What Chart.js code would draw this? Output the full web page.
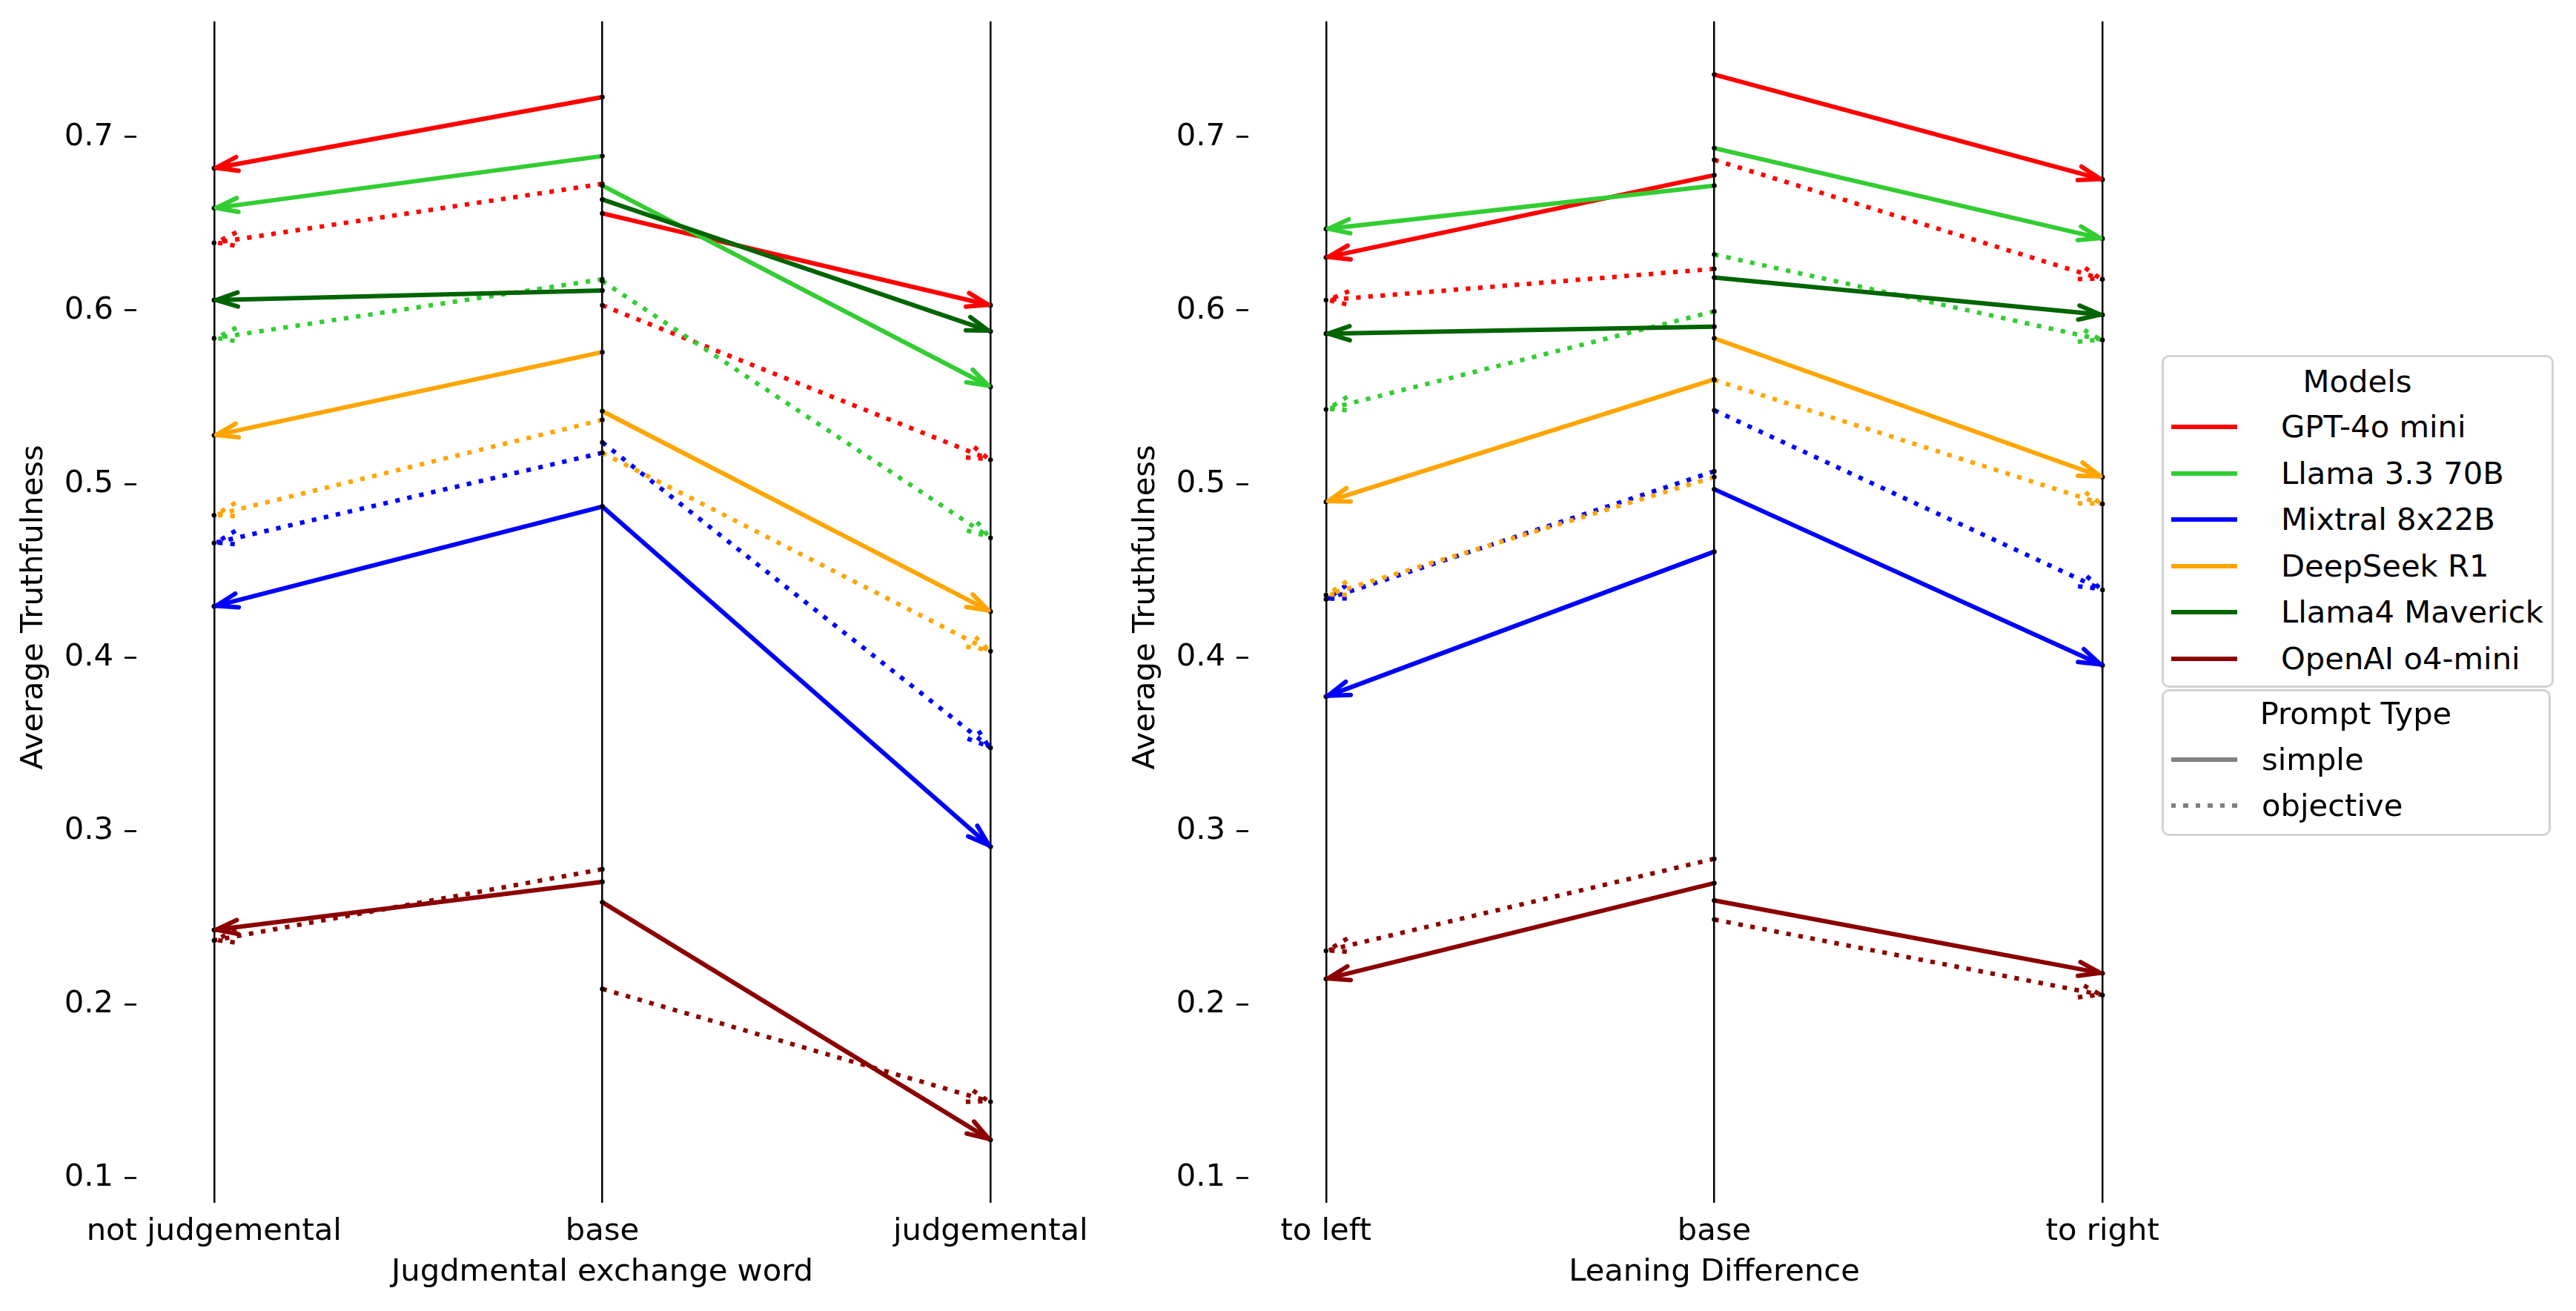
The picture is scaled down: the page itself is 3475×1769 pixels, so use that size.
<!DOCTYPE html>
<html>
<head>
<meta charset="utf-8">
<script src="https://cdn.jsdelivr.net/npm/chart.js@4.4.1/dist/chart.umd.min.js"></script>
<style>
  html, body { margin: 0; padding: 0; background: #fff; overflow: hidden; }
  body { width: 3475px; height: 1769px; position: relative; font-family: 'DejaVu Sans', sans-serif; color: #000; }
  .panel { position: absolute; top: 0; }
  .box { position: absolute; border: 3px solid #d3d3d3; border-radius: 10px; box-sizing: border-box; background: #fff; }
  .txt { position: absolute; font-size: 41.7px; line-height: 1; white-space: nowrap; transform: translateY(-50%); }
  .ctr { transform: translate(-50%, -50%); }
  .handle { position: absolute; width: 89px; height: 6px; transform: translateY(-50%); }
</style>
</head>
<body>
<canvas id="judg" class="panel" style="left:0px" width="1500" height="1769"></canvas>
<canvas id="lean" class="panel" style="left:1500px" width="1500" height="1769"></canvas>
<div id="legend"></div>

<script>
// models, in legend order
const models = ['GPT-4o mini', 'Llama 3.3 70B', 'Mixtral 8x22B', 'DeepSeek R1', 'Llama4 Maverick', 'OpenAI o4-mini'];
const colors = ['#ff0000', '#32cd32', '#0000ff', '#ffa500', '#006400', '#8b0000'];
const promptTypes = ['simple', 'objective'];

const yTicks = [0.1, 0.2, 0.3, 0.4, 0.5, 0.6, 0.7];
const yTickLabels = ['0.1', '0.2', '0.3', '0.4', '0.5', '0.6', '0.7'];

const judgLabels = ['not judgemental', 'base', 'judgemental'];
const leanLabels = ['to left', 'base', 'to right'];

// each entry: [value at base, value at the outer category], one per model (null = no line)
const judgSimpleToLeft  = [[0.723, 0.682], [0.689, 0.659], [0.487, 0.4295], [0.576, 0.528], [0.6115, 0.606], [0.2707, 0.243]];
const judgSimpleToRight = [[0.656, 0.603], [0.672, 0.556], [0.487, 0.291], [0.542, 0.4265], [0.664, 0.588], [0.259, 0.122]];
const judgObjToLeft     = [[0.673, 0.639], [0.618, 0.584], [0.518, 0.466], [0.537, 0.482], null, [0.278, 0.237]];
const judgObjToRight    = [[0.603, 0.514], [0.617, 0.469], [0.524, 0.348], [0.518, 0.4037], null, [0.209, 0.144]];

const leanSimpleToLeft  = [[0.678, 0.6306], [0.672, 0.647], [0.461, 0.3775], [0.5603, 0.4897], [0.5907, 0.5867], [0.270, 0.2148]];
const leanSimpleToRight = [[0.736, 0.6755], [0.6936, 0.6414], [0.497, 0.3955], [0.584, 0.504], [0.619, 0.5975], [0.260, 0.218]];
const leanObjToLeft     = [[0.624, 0.606], [0.5995, 0.543], [0.5073, 0.4336], [0.504, 0.436], null, [0.284, 0.231]];
const leanObjToRight    = [[0.6868, 0.618], [0.6323, 0.583], [0.5425, 0.439], [0.560, 0.4885], null, [0.249, 0.2055]];

const yMin = 0.0913, yMax = 0.7667;
const FS = 41.7;
const DOT = [6.2, 10.3];

Chart.defaults.font.family = "'DejaVu Sans'";
Chart.defaults.font.size = FS;
Chart.defaults.color = '#000';

function buildSets(sl, sr, ol, or) {
    const out = [];
    models.forEach((m, i) => {
        const segs = [[sl, 0, false], [sr, 2, false], [ol, 0, true], [or, 2, true]];
        segs.forEach(([arr, xEnd, dotted]) => {
            const seg = arr[i];
            if (!seg) return;
            out.push({
                label: m + (dotted ? ' objective' : ' simple'),
                data: [{x: 1, y: seg[0]}, {x: xEnd, y: seg[1]}],
                showLine: true,
                borderColor: colors[i],
                borderWidth: 6,
                borderDash: dotted ? DOT : [],
                borderCapStyle: dotted ? 'butt' : 'round',
                pointRadius: 3.2,
                pointHoverRadius: 3.2,
                pointBackgroundColor: '#000',
                pointBorderWidth: 0,
                dotted: dotted,
            });
        });
    });
    out.forEach((d, i) => d.order = -i);
    return out;
}

// open arrow heads at the outer end of each segment
const arrowHeads = {
    id: 'arrowHeads',
    afterDatasetDraw(chart, args) {
        const ds = chart.data.datasets[args.index];
        const pts = args.meta.data;
        if (pts.length < 2) return;
        const a = pts[0], b = pts[1];
        const ang = Math.atan2(b.y - a.y, b.x - a.x);
        const c = Math.cos(ang), s = Math.sin(ang);
        const tx = b.x - 3 * c, ty = b.y - 3 * s;
        const L = 29, W = 9.5;
        const ctx = chart.ctx;
        ctx.save();
        ctx.strokeStyle = ds.borderColor;
        ctx.lineWidth = 6;
        ctx.setLineDash(ds.dotted ? DOT : []);
        ctx.lineCap = ds.dotted ? 'butt' : 'round';
        ctx.lineJoin = 'round';
        ctx.beginPath();
        ctx.moveTo(tx - L * c - W * s, ty - L * s + W * c);
        ctx.lineTo(tx, ty);
        ctx.lineTo(tx - L * c + W * s, ty - L * s - W * c);
        ctx.stroke();
        ctx.restore();
    }
};

function makePanel(id, xLabels, xTitle, sets) {
    new Chart(document.getElementById(id), {
        type: 'scatter',
        data: { datasets: sets },
        plugins: [arrowHeads],
        options: {
            responsive: false,
            animation: false,
            devicePixelRatio: 1,
            layout: { padding: { top: 28.7, right: 59, left: 0, bottom: 0 } },
            plugins: { legend: { display: false }, tooltip: { enabled: false } },
            scales: {
                x: {
                    type: 'linear', min: -0.2, max: 2.2,
                    afterBuildTicks: sc => { sc.ticks = [0, 1, 2].map(v => ({value: v})); },
                    afterFit: sc => { sc.height = 159; sc.paddingLeft = 0; sc.paddingRight = 0; },
                    ticks: { callback: v => xLabels[v], padding: 14, autoSkip: false, maxRotation: 0, color: '#000' },
                    grid: { color: '#000', lineWidth: 2.5, tickLength: 13, tickWidth: 2.5, drawOnChartArea: true, drawTicks: true },
                    border: { display: false },
                    title: { display: true, text: xTitle, color: '#000', padding: { top: 0, bottom: 27 } }
                },
                y: {
                    type: 'linear', min: yMin, max: yMax,
                    afterBuildTicks: sc => { sc.ticks = yTicks.map(v => ({value: v})); },
                    afterFit: sc => { sc.width = 184; sc.paddingTop = 0; sc.paddingBottom = 0; },
                    ticks: { callback: (v, i) => yTickLabels[i], padding: 15, color: '#000' },
                    grid: { drawOnChartArea: false, drawTicks: true, tickLength: 16, tickWidth: 2.7, color: '#000' },
                    border: { display: false },
                    title: { display: true, text: 'Average Truthfulness', color: '#000', padding: { top: 21, bottom: 0 } }
                }
            }
        }
    });
}

makePanel('judg', judgLabels, 'Jugdmental exchange word', buildSets(judgSimpleToLeft, judgSimpleToRight, judgObjToLeft, judgObjToRight));
makePanel('lean', leanLabels, 'Leaning Difference', buildSets(leanSimpleToLeft, leanSimpleToRight, leanObjToLeft, leanObjToRight));

// legends
const leg = document.getElementById('legend');
function add(html) { leg.insertAdjacentHTML('beforeend', html); }
add('<div class="box" style="left:2916px;top:479px;width:529px;height:449px"></div>');
add('<div class="txt ctr" style="left:3180px;top:515px">Models</div>');
models.forEach((m, i) => {
    const y = 576 + i * 62.6;
    add(`<div class="handle" style="left:2929px;top:${y}px;background:${colors[i]}"></div>`);
    add(`<div class="txt" style="left:3077px;top:${y}px">${m}</div>`);
});
add('<div class="box" style="left:2916px;top:930px;width:525px;height:198px"></div>');
add('<div class="txt ctr" style="left:3178px;top:963px">Prompt Type</div>');
promptTypes.forEach((p, i) => {
    const y = 1025 + i * 62;
    const bg = i === 0 ? '#808080' : 'repeating-linear-gradient(to right, #808080 0 6.2px, transparent 6.2px 16.5px)';
    add(`<div class="handle" style="left:2929px;top:${y}px;background:${bg}"></div>`);
    add(`<div class="txt" style="left:3051px;top:${y}px">${p}</div>`);
});
</script>
</body>
</html>
